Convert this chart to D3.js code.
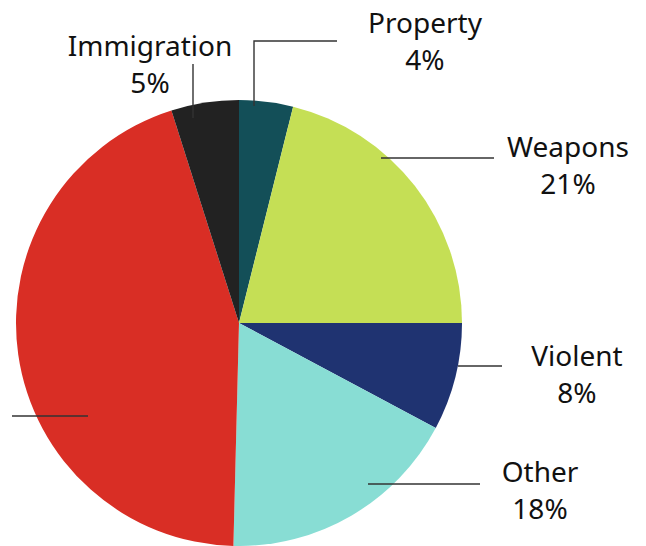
<!DOCTYPE html>
<html>
<head>
<meta charset="utf-8">
<script src="https://cdn.jsdelivr.net/npm/d3@7/dist/d3.min.js"></script>
<style>
  html, body { margin: 0; padding: 0; background: #fff; overflow: hidden; }
  svg { display: block; }
  .label { font-family: "Noto Sans", sans-serif; font-size: 28px; fill: #111; }
</style>
</head>
<body>
<svg id="chart" width="646" height="546"></svg>
<script>
// Share of cases by offence category (percent), clockwise from 12 o'clock
const categories = ["Property", "Weapons", "Violent", "Other", "Drug", "Immigration"];
const shares = [3.9, 21.1, 7.8, 17.6, 44.7, 4.9];
const colors = ["#134f58", "#c5df55", "#1f3371", "#88ddd4", "#d92e25", "#222222"];

const data = categories.map((c, i) => ({ name: c, value: shares[i], color: colors[i] }));

const width = 646, height = 546;
const cx = 239, cy = 323, radius = 223;

const svg = d3.select("#chart");
const g = svg.append("g").attr("transform", `translate(${cx},${cy})`);

const pie = d3.pie().value(d => d.value).sort(null);
const arc = d3.arc().innerRadius(0).outerRadius(radius);
const arcs = pie(data);

g.selectAll("path.slice")
  .data(arcs)
  .join("path")
  .attr("class", "slice")
  .attr("d", arc)
  .attr("fill", d => d.data.color);

// Callout layout relative to the pie centre: leader polyline and text anchor
// (the Drug callout runs off the left edge, so only its leader is drawn)
const callouts = {
  Property:    { line: [[15, -217], [15, -282], [98, -282]], text: [186, -290] },
  Weapons:     { line: [[142, -165], [255, -165]],           text: [329, -166] },
  Violent:     { line: [[219, 43], [263, 43]],               text: [338, 43] },
  Other:       { line: [[129, 161], [241, 161]],             text: [301, 159] },
  Drug:        { line: [[-151, 93], [-227, 93]],             text: null },
  Immigration: { line: [[-46, -205], [-46, -259]],           text: [-89, -267] }
};

const fmt = v => `${d3.format(".0f")(v)}%`;
const lineGen = d3.line();

arcs.forEach(a => {
  const c = callouts[a.data.name];
  g.append("path")
    .attr("d", lineGen(c.line))
    .attr("fill", "none")
    .attr("stroke", "#333")
    .attr("stroke-width", 1.4);

  if (!c.text) return;
  const t = g.append("text")
    .attr("class", "label")
    .attr("text-anchor", "middle")
    .attr("x", c.text[0])
    .attr("y", c.text[1]);
  t.append("tspan").attr("x", c.text[0]).attr("dy", 0).text(a.data.name);
  t.append("tspan").attr("x", c.text[0]).attr("dy", 37).text(fmt(a.data.value));
});
</script>
</body>
</html>
